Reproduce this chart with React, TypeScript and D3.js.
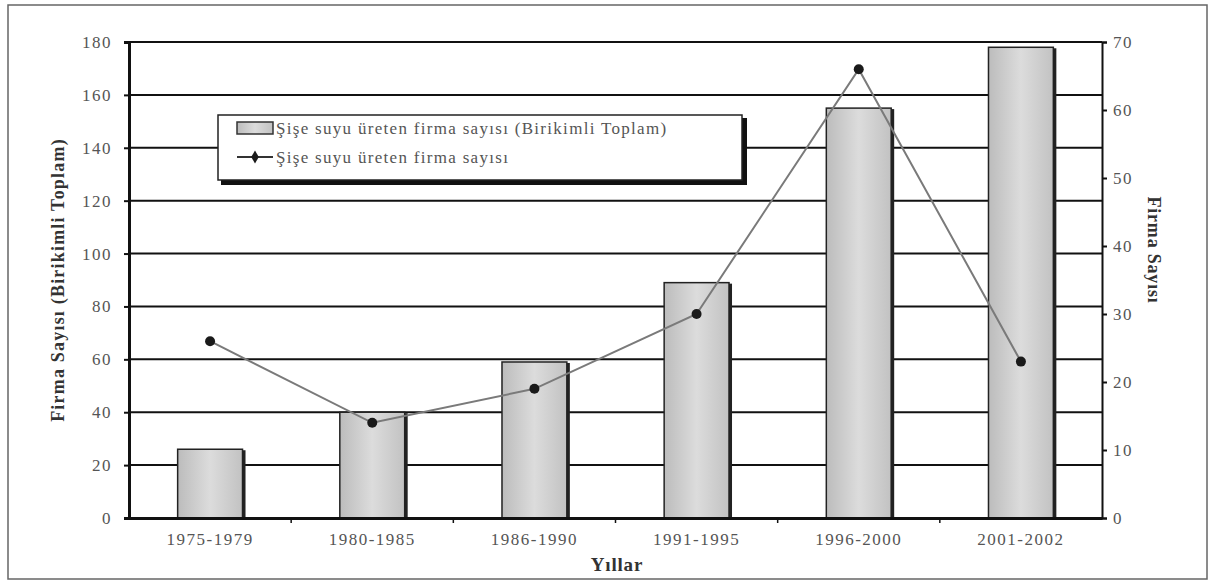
import { useEffect, useRef } from "react";
import * as d3 from "d3";

const categories = ["1975-1979", "1980-1985", "1986-1990", "1991-1995", "1996-2000", "2001-2002"];
const cumulative = [26, 40, 59, 89, 155, 178];
const perPeriod = [26, 14, 19, 30, 66, 23];
const leftTicks = [0, 20, 40, 60, 80, 100, 120, 140, 160, 180];
const rightTicks = [0, 10, 20, 30, 40, 50, 60, 70];
const legendLabels = [
  "Şişe suyu üreten firma sayısı (Birikimli Toplam)",
  "Şişe suyu üreten firma sayısı",
];

const App = () => {
  const svgRef = useRef<SVGSVGElement>(null);
  const width = 1215;
  const height = 582;
  const margin = { top: 42, right: 113, bottom: 64, left: 129 };

  useEffect(() => {
    if (!svgRef.current) return;
    const svg = d3.select(svgRef.current);
    svg.selectAll("*").remove();

    const innerWidth = width - margin.left - margin.right;
    const innerHeight = height - margin.top - margin.bottom;
    const font = "'Liberation Serif', 'Times New Roman', serif";

    // frame
    svg.append("rect")
      .attr("x", 8).attr("y", 5).attr("width", 1199).attr("height", 574)
      .attr("fill", "#fff").attr("stroke", "#666").attr("stroke-width", 1.5);

    const defs = svg.append("defs");
    const grad = defs.append("linearGradient").attr("id", "barGrad")
      .attr("x1", "0%").attr("x2", "100%").attr("y1", "0%").attr("y2", "0%");
    grad.append("stop").attr("offset", "0%").attr("stop-color", "#bcbcbc");
    grad.append("stop").attr("offset", "50%").attr("stop-color", "#dcdcdc");
    grad.append("stop").attr("offset", "100%").attr("stop-color", "#c2c2c2");

    const xBand = d3.scaleBand<string>().domain(categories).range([0, innerWidth]);
    const yL = d3.scaleLinear().domain([0, 180]).range([innerHeight, 0]);
    const yR = d3.scaleLinear().domain([0, 70]).range([innerHeight, 0]);

    const g = svg.append("g").attr("transform", `translate(${margin.left},${margin.top})`);

    // gridlines
    g.selectAll("line.grid")
      .data(leftTicks)
      .join("line")
      .attr("class", "grid")
      .attr("x1", 0).attr("x2", innerWidth)
      .attr("y1", (d) => yL(d)).attr("y2", (d) => yL(d))
      .attr("stroke", "#111").attr("stroke-width", 2);

    // bars
    const bw = xBand.bandwidth() * 0.4;
    const bx = (d: string) => (xBand(d) as number) + (xBand.bandwidth() - bw) / 2;
    g.selectAll("rect.shadow")
      .data(categories)
      .join("rect")
      .attr("class", "shadow")
      .attr("x", (d) => bx(d) + 3)
      .attr("y", (d, i) => yL(cumulative[i]) + 1)
      .attr("width", bw)
      .attr("height", (d, i) => innerHeight - yL(cumulative[i]) - 1)
      .attr("fill", "#222");
    g.selectAll("rect.bar")
      .data(categories)
      .join("rect")
      .attr("class", "bar")
      .attr("x", (d) => bx(d))
      .attr("y", (d, i) => yL(cumulative[i]))
      .attr("width", bw)
      .attr("height", (d, i) => innerHeight - yL(cumulative[i]))
      .attr("fill", "url(#barGrad)")
      .attr("stroke", "#222").attr("stroke-width", 1.5);

    // line
    const cx = (d: string) => (xBand(d) as number) + xBand.bandwidth() / 2;
    const line = d3.line<number>()
      .x((d, i) => cx(categories[i]))
      .y((d) => yR(d));
    g.append("path")
      .datum(perPeriod)
      .attr("fill", "none")
      .attr("stroke", "#7a7a7a")
      .attr("stroke-width", 2)
      .attr("d", line);
    g.selectAll("circle.pt")
      .data(perPeriod)
      .join("circle")
      .attr("class", "pt")
      .attr("cx", (d, i) => cx(categories[i]))
      .attr("cy", (d) => yR(d))
      .attr("r", 5)
      .attr("fill", "#1a1a1a");

    const styleTicks = (sel: any) =>
      sel.selectAll(".tick text")
        .attr("font-family", font).attr("font-size", 17)
        .attr("letter-spacing", 1.5).attr("fill", "#555");

    // axes
    const axL = g.append("g").call(d3.axisLeft(yL).tickValues(leftTicks).tickSize(5).tickPadding(12));
    axL.select(".domain").attr("stroke", "#111").attr("stroke-width", 3);
    axL.selectAll(".tick line").attr("stroke", "#111").attr("stroke-width", 2);
    styleTicks(axL);

    const axR = g.append("g").attr("transform", `translate(${innerWidth},0)`)
      .call(d3.axisRight(yR).tickValues(rightTicks).tickSize(5).tickPadding(6));
    axR.select(".domain").attr("stroke", "#111").attr("stroke-width", 2);
    axR.selectAll(".tick line").attr("stroke", "#111").attr("stroke-width", 2);
    styleTicks(axR);

    const axB = g.append("g").attr("transform", `translate(0,${innerHeight})`)
      .call(d3.axisBottom(xBand).tickSize(0).tickPadding(15));
    axB.select(".domain").attr("stroke", "#111").attr("stroke-width", 3);
    styleTicks(axB);
    // category boundary ticks
    g.selectAll("line.xt")
      .data(categories.slice(1))
      .join("line")
      .attr("class", "xt")
      .attr("x1", (d) => xBand(d) as number).attr("x2", (d) => xBand(d) as number)
      .attr("y1", innerHeight).attr("y2", innerHeight + 5)
      .attr("stroke", "#111").attr("stroke-width", 1.5);

    // axis titles
    svg.append("text")
      .attr("transform", `translate(64,${margin.top + innerHeight / 2}) rotate(-90)`)
      .attr("text-anchor", "middle")
      .attr("font-family", font).attr("font-size", 18).attr("font-weight", "bold")
      .attr("letter-spacing", 1.2).attr("fill", "#333")
      .text("Firma Sayısı (Birikimli Toplam)");
    svg.append("text")
      .attr("transform", `translate(1148,250) rotate(90)`)
      .attr("text-anchor", "middle")
      .attr("font-family", font).attr("font-size", 18).attr("font-weight", "bold")
      .attr("letter-spacing", 0.8).attr("fill", "#333")
      .text("Firma Sayısı");
    svg.append("text")
      .attr("x", 617).attr("y", 571)
      .attr("text-anchor", "middle")
      .attr("font-family", font).attr("font-size", 19).attr("font-weight", "bold")
      .attr("letter-spacing", 0.8).attr("fill", "#333")
      .text("Yıllar");

    // legend
    const lg = svg.append("g").attr("transform", "translate(218,115)");
    lg.append("rect").attr("x", 3).attr("y", 3).attr("width", 526).attr("height", 67).attr("fill", "#111");
    lg.append("rect").attr("x", 0).attr("y", 0).attr("width", 524).attr("height", 65)
      .attr("fill", "#fff").attr("stroke", "#222").attr("stroke-width", 1.5);
    lg.append("rect").attr("x", 19).attr("y", 7).attr("width", 36).attr("height", 12)
      .attr("fill", "url(#barGrad)").attr("stroke", "#333").attr("stroke-width", 1.5);
    lg.append("line").attr("x1", 19).attr("x2", 55).attr("y1", 42).attr("y2", 42)
      .attr("stroke", "#333").attr("stroke-width", 2);
    lg.append("path").attr("d", d3.symbol(d3.symbolDiamond, 50)())
      .attr("transform", "translate(37,42)").attr("fill", "#1a1a1a");
    lg.selectAll("text.lt")
      .data(legendLabels)
      .join("text")
      .attr("class", "lt")
      .attr("x", 58)
      .attr("y", (d, i) => 13 + i * 29)
      .attr("dy", "0.35em")
      .attr("font-family", font).attr("font-size", 17).attr("letter-spacing", 1.3).attr("fill", "#555")
      .text((d) => d);
  }, []);

  return (
    <svg
      ref={svgRef}
      width={width}
      height={height}
      style={{ position: "absolute", left: 0, top: 0, background: "#fff" }}
    />
  );
};

export default App;
